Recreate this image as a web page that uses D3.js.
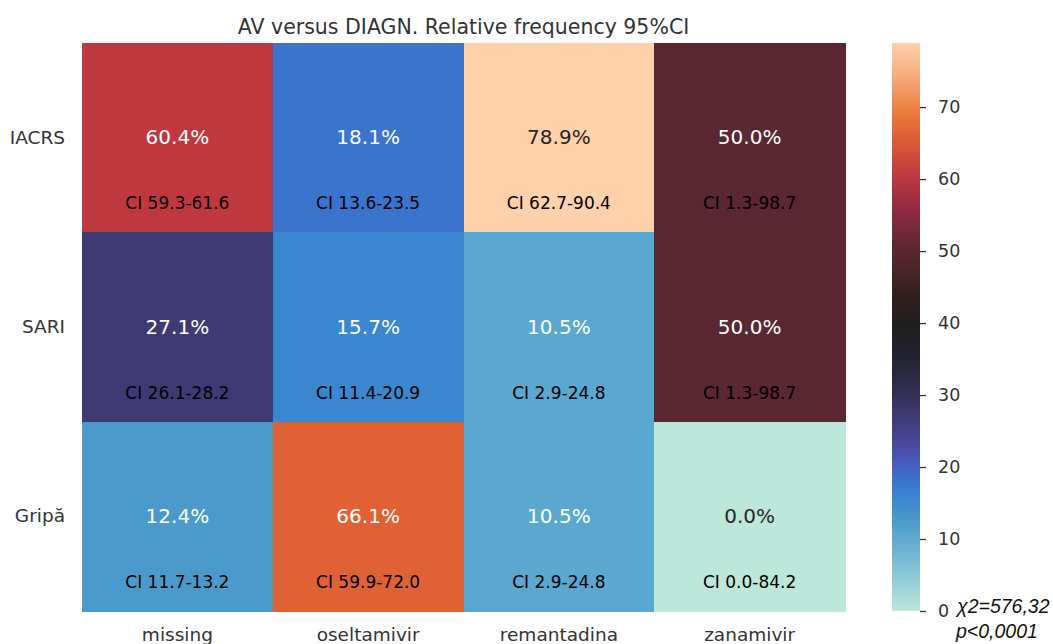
<!DOCTYPE html>
<html>
<head>
<meta charset="utf-8">
<script src="https://cdn.jsdelivr.net/npm/d3@7"></script>
<style>
  body { margin: 0; background: #fff; }
  svg { display: block; font-family: "DejaVu Sans", sans-serif; }
</style>
</head>
<body>
<svg id="chart" width="1053" height="644"></svg>
<script>
// ---- data ----
const rows = ["IACRS", "SARI", "Gripă"];
const cols = ["missing", "oseltamivir", "remantadina", "zanamivir"];
const valIACRS = [60.4, 18.1, 78.9, 50.0];
const valSARI  = [27.1, 15.7, 10.5, 50.0];
const valGripa = [12.4, 66.1, 10.5, 0.0];
const ciIACRS = ["59.3-61.6", "13.6-23.5", "62.7-90.4", "1.3-98.7"];
const ciSARI  = ["26.1-28.2", "11.4-20.9", "2.9-24.8", "1.3-98.7"];
const ciGripa = ["11.7-13.2", "59.9-72.0", "2.9-24.8", "0.0-84.2"];
const cbTicks = [0, 10, 20, 30, 40, 50, 60, 70];
const titleText = "AV versus DIAGN. Relative frequency 95%CI";
const statLines = ["χ2=576,32", "p<0,0001"];

const values = [valIACRS, valSARI, valGripa];
const cis = [ciIACRS, ciSARI, ciGripa];
const cells = [];
rows.forEach((r, i) => cols.forEach((c, j) => cells.push({ r, c, v: values[i][j], ci: cis[i][j] })));

// ---- icefire-like colormap ----
const icefireStops = [
  [0.000, "#bde7db"], [0.060, "#8ccad6"], [0.133, "#5aa7cf"], [0.157, "#4a9bcc"],
  [0.199, "#3a87d0"], [0.229, "#3a74cd"], [0.262, "#4759bd"], [0.300, "#484796"],
  [0.343, "#403a74"], [0.400, "#2e2c4a"], [0.450, "#232230"], [0.500, "#1f1e1f"],
  [0.560, "#34201f"], [0.634, "#5a2832"], [0.700, "#8a2842"], [0.766, "#c0383f"],
  [0.838, "#e06134"], [0.880, "#ec7d3f"], [0.940, "#f5aa78"], [1.000, "#ffd1ab"]
];
const vmin = 0, vmax = d3.max(values.flat());
const interp = d3.scaleLinear()
  .domain(icefireStops.map(s => s[0]))
  .range(icefireStops.map(s => s[1]))
  .interpolate(d3.interpolateRgb)
  .clamp(true);
const color = v => interp((v - vmin) / (vmax - vmin));

function lum(c) {
  const rgb = d3.rgb(c);
  const f = x => { x /= 255; return x <= 0.03928 ? x / 12.92 : Math.pow((x + 0.055) / 1.055, 2.4); };
  return 0.2126 * f(rgb.r) + 0.7152 * f(rgb.g) + 0.0722 * f(rgb.b);
}

// ---- layout ----
const svg = d3.select("#chart");
const L = 82, R = 845, T = 43, B = 611;
const x = d3.scaleBand().domain(cols).range([L, R]);
const y = d3.scaleBand().domain(rows).range([T, B]);

svg.append("g").attr("shape-rendering", "crispEdges").selectAll("rect").data(cells).join("rect")
  .attr("x", d => x(d.c)).attr("y", d => y(d.r))
  .attr("width", x.bandwidth() + 1).attr("height", y.bandwidth() + 1)
  .attr("fill", d => color(d.v));

svg.append("g").selectAll("text").data(cells).join("text")
  .attr("x", d => x(d.c) + x.bandwidth() / 2)
  .attr("y", d => y(d.r) + y.bandwidth() / 2 - 0.5)
  .attr("text-anchor", "middle").attr("dominant-baseline", "central")
  .attr("font-size", 20)
  .attr("fill", d => lum(color(d.v)) > 0.408 ? "#262626" : "#ffffff")
  .text(d => d.v.toFixed(1) + "%");

svg.append("g").selectAll("text").data(cells).join("text")
  .attr("x", d => x(d.c) + x.bandwidth() / 2)
  .attr("y", d => y(d.r) + y.bandwidth() / 2 + 65.5)
  .attr("text-anchor", "middle").attr("dominant-baseline", "central")
  .attr("font-size", 17).attr("fill", "#000")
  .text(d => "CI " + d.ci);

// axes (no tick lines)
const yAxis = svg.append("g").attr("transform", `translate(${L},0)`)
  .call(d3.axisLeft(y).tickSize(0).tickPadding(17));
yAxis.select(".domain").remove();
yAxis.selectAll("text").attr("font-size", 18.5).attr("fill", "#333")
  .attr("font-family", "DejaVu Sans, sans-serif");

const xAxis = svg.append("g").attr("transform", `translate(0,${B})`)
  .call(d3.axisBottom(x).tickSize(0).tickPadding(17));
xAxis.select(".domain").remove();
xAxis.selectAll("text").attr("font-size", 18.5).attr("fill", "#333")
  .attr("font-family", "DejaVu Sans, sans-serif");

// title
svg.append("text").attr("x", (L + R) / 2).attr("y", 27)
  .attr("text-anchor", "middle").attr("dominant-baseline", "central")
  .attr("font-size", 20.5).attr("fill", "#333").text(titleText);

// ---- colorbar ----
const cbX = 892, cbW = 28;
const cy = d3.scaleLinear().domain([vmin, vmax]).range([B, T]);
const defs = svg.append("defs");
const grad = defs.append("linearGradient").attr("id", "cbgrad")
  .attr("x1", 0).attr("y1", 1).attr("x2", 0).attr("y2", 0);
d3.range(0, 1.0001, 0.02).forEach(t => {
  grad.append("stop").attr("offset", t).attr("stop-color", interp(t));
});
svg.append("rect").attr("x", cbX).attr("y", T).attr("width", cbW).attr("height", B - T)
  .attr("fill", "url(#cbgrad)");
const cbAxis = svg.append("g").attr("transform", `translate(${cbX + cbW},0)`)
  .call(d3.axisRight(cy).tickValues(cbTicks).tickSize(6).tickPadding(12).tickFormat(d3.format("d")));
cbAxis.select(".domain").remove();
cbAxis.selectAll("line").attr("stroke", "#333").attr("stroke-width", 1.3);
cbAxis.selectAll("text").attr("font-size", 17.5).attr("fill", "#333")
  .attr("font-family", "DejaVu Sans, sans-serif");

// stats annotation
svg.append("g").selectAll("text").data(statLines).join("text")
  .attr("x", (d, i) => i === 0 ? 957 : 956)
  .attr("y", (d, i) => 606 + i * 25)
  .attr("dominant-baseline", "central")
  .attr("font-family", "Liberation Sans, Arial, sans-serif")
  .attr("font-size", 19.5).attr("font-style", "italic").attr("fill", "#111")
  .text(d => d);
</script>
</body>
</html>
